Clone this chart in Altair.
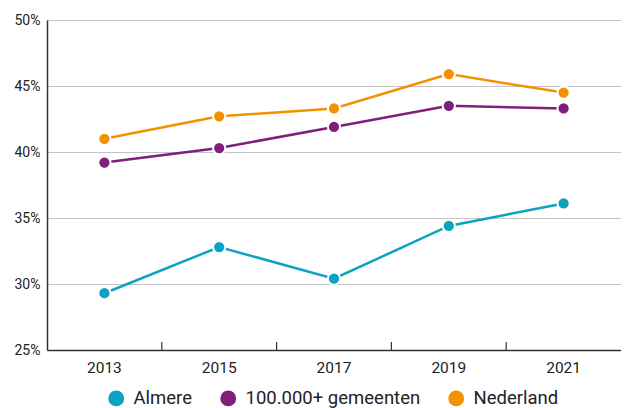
import altair as alt
import pandas as pd

years = ["2013", "2015", "2017", "2019", "2021"]
series_names = ["Almere", "100.000+ gemeenten", "Nederland"]
almere = [29.3, 32.8, 30.4, 34.4, 36.1]
gemeenten = [39.2, 40.3, 41.9, 43.5, 43.3]
nederland = [41.0, 42.7, 43.3, 45.9, 44.5]
colors = ["#0ba3c1", "#7d1f7b", "#f39200"]
y_ticks = [25, 27.5, 30, 32.5, 35, 37.5, 40, 42.5, 45, 47.5, 50]

rows = []
for name, vals in zip(series_names, [almere, gemeenten, nederland]):
    for yr, v in zip(years, vals):
        rows.append({"jaar": yr, "reeks": name, "waarde": v})
df = pd.DataFrame(rows)
ticks_df = pd.DataFrame({"jaar": years[1:]})

FONT = "Roboto"

x_enc = alt.X("jaar:N", sort=years, title=None,
              scale=alt.Scale(paddingInner=0, paddingOuter=0),
              axis=alt.Axis(labelAngle=0, ticks=False, domain=True, domainColor="#333333",
                            domainWidth=1.5, labelFontSize=15.5, labelColor="#222222",
                            labelPadding=10, labelFont=FONT, grid=False))
y_enc = alt.Y("waarde:Q", title=None,
              scale=alt.Scale(domain=[25, 50], nice=False, zero=False),
              axis=alt.Axis(values=y_ticks,
                            labelExpr="datum.value % 5 == 0 ? datum.value + '%' : ''",
                            ticks=False, domainColor="#333333", domainWidth=1.5,
                            gridColor="#c4c4c4", gridWidth=1.2, labelFontSize=14,
                            labelColor="#222222", labelPadding=7, labelFont=FONT))
color_enc = alt.Color("reeks:N",
                      scale=alt.Scale(domain=series_names, range=colors),
                      legend=alt.Legend(title=None, orient="none", direction="horizontal",
                                        legendX=60, legendY=369, symbolType="circle",
                                        symbolSize=250, symbolStrokeWidth=0,
                                        labelFontSize=18.5, labelColor="#222222",
                                        labelFont=FONT, labelOffset=8, columnPadding=26,
                                        labelLimit=300, padding=0))

base = alt.Chart(df)
lines = base.mark_line(strokeWidth=2.5).encode(x=x_enc, y=y_enc, color=color_enc)
points = base.mark_point(filled=True, size=150, opacity=1, stroke="white",
                         strokeWidth=2, strokeOpacity=1).encode(
    x=alt.X("jaar:N", sort=years), y="waarde:Q",
    fill=alt.Fill("reeks:N", scale=alt.Scale(domain=series_names, range=colors), legend=None))
xticks = alt.Chart(ticks_df).mark_rule(color="#333333", strokeWidth=1.2).encode(
    x=alt.X("jaar:N", sort=years, bandPosition=0),
    y=alt.value(322), y2=alt.value(330))

chart = alt.layer(lines, xticks, points).properties(
    width=574, height=330,
    autosize=alt.AutoSizeParams(type="none"),
    padding={"left": 39, "top": 12, "right": 0, "bottom": 58},
).configure_view(stroke=None).configure(font=FONT)

chart.save("out.html", embed_options={"renderer": "svg", "actions": False})
